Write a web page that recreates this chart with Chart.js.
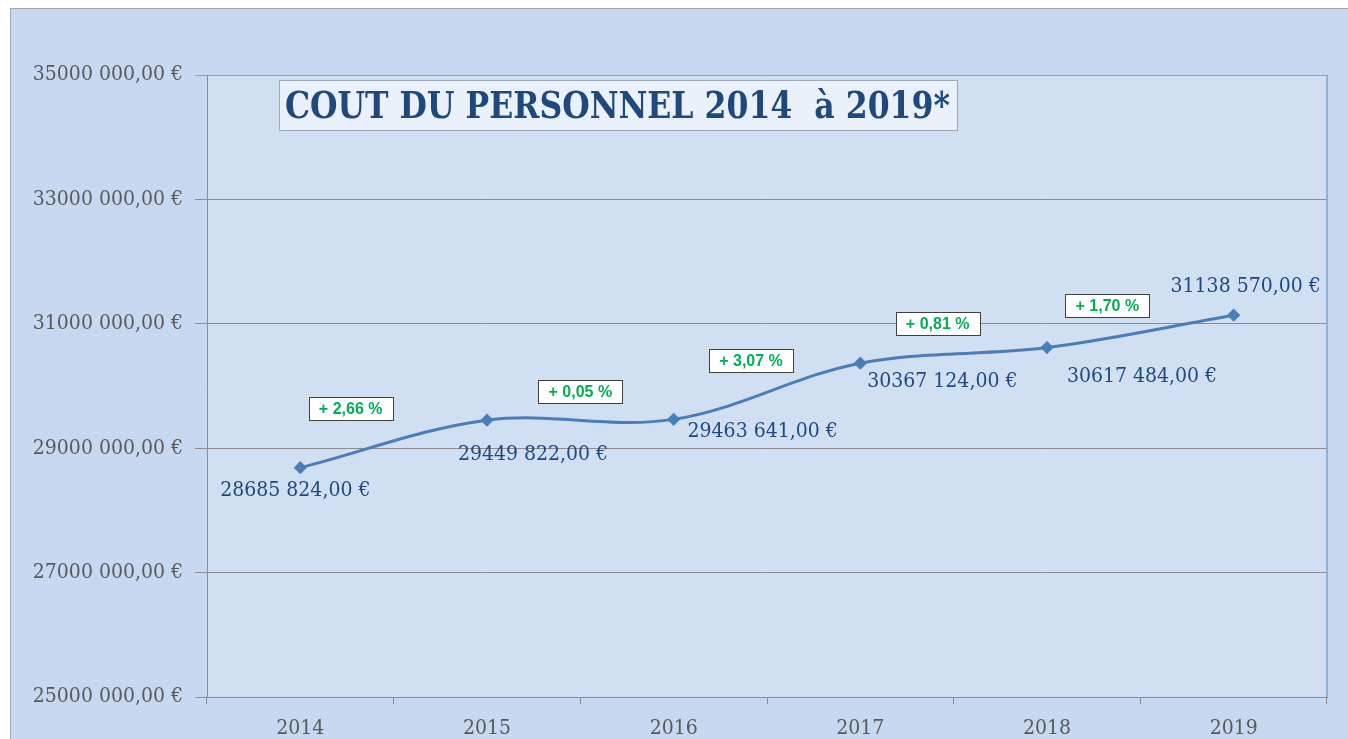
<!DOCTYPE html>
<html>
<head>
<meta charset="utf-8">
<script src="https://cdn.jsdelivr.net/npm/chart.js@4/dist/chart.umd.min.js"></script>
<style>
  html, body { margin: 0; padding: 0; background: #fff; }
  #wrap { width: 1348px; height: 739px; }
</style>
</head>
<body>
<div id="wrap"><canvas id="chart" width="1348" height="739"></canvas></div>
<script>
// data
var years = ['2014', '2015', '2016', '2017', '2018', '2019'];
var costs = [28685824, 29449822, 29463641, 30367124, 30617484, 31138570];
var growthLabels = ['+ 2,66 %', '+ 0,05 %', '+ 3,07 %', '+ 0,81 %', '+ 1,70 %'];
var yMin = 25000000, yMax = 35000000, yStep = 2000000;
var title = 'COUT DU PERSONNEL 2014  \u00e0 2019*';

// where each label sits relative to its point (pixels)
var valueOffsets = [[-5, 23], [46, 34], [89, 12], [82, 18], [95, 29], [12, -29]];
var growthOffsets = [[-43, -35], [0, -28], [-16, -31], [-16, -32], [-33, -26]];

function euro(v) {
    var s = Math.round(v).toString();
    return s.slice(0, -3) + ' ' + s.slice(-3) + ',00 \u20ac';
}

var serif = '"DejaVu Serif Condensed", "DejaVu Serif", serif';

var framePlugin = {
    id: 'frame',
    beforeDraw: function(chart) {
        var c = chart.ctx, a = chart.chartArea;
        c.save();
        c.fillStyle = '#ffffff';
        c.fillRect(0, 0, chart.width, chart.height);
        c.fillStyle = '#c6d9f0';
        c.fillRect(10, 8, chart.width - 10, chart.height - 8);
        c.strokeStyle = '#a6a6a6';
        c.lineWidth = 1;
        c.strokeRect(10.5, 8.5, chart.width, chart.height);
        c.fillStyle = '#d0dff2';
        c.fillRect(a.left, a.top, a.right - a.left, a.bottom - a.top);
        c.restore();
    },
    afterDraw: function(chart) {
        var c = chart.ctx, a = chart.chartArea;
        var pts = chart.getDatasetMeta(0).data;
        c.save();
        // plot border on the right
        c.strokeStyle = '#7da0d2';
        c.lineWidth = 1.5;
        c.beginPath();
        c.moveTo(a.right, a.top);
        c.lineTo(a.right, a.bottom);
        c.stroke();

        // title box
        c.fillStyle = '#eaf1fa';
        c.fillRect(279, 80, 678, 50);
        c.strokeStyle = '#a0a8b4';
        c.lineWidth = 1;
        c.strokeRect(279.5, 80.5, 678, 50);
        c.fillStyle = '#1f497d';
        c.font = 'bold 38px ' + serif;
        var tw = c.measureText(title).width;
        c.save();
        c.translate(285, 118);
        c.scale(665 / tw, 1);
        c.textAlign = 'left';
        c.textBaseline = 'alphabetic';
        c.fillText(title, 0, 0);
        c.restore();

        // value labels
        c.font = '21px ' + serif;
        c.textAlign = 'center';
        c.textBaseline = 'middle';
        c.fillStyle = '#1f497d';
        for (var i = 0; i < pts.length; i++) {
            c.fillText(euro(costs[i]), pts[i].x + valueOffsets[i][0], pts[i].y + valueOffsets[i][1]);
        }

        // growth boxes
        c.font = 'bold 16px "Liberation Sans", Arial, sans-serif';
        for (var j = 0; j < growthLabels.length; j++) {
            var mx = (pts[j].x + pts[j + 1].x) / 2 + growthOffsets[j][0];
            var my = (pts[j].y + pts[j + 1].y) / 2 + growthOffsets[j][1];
            var w = 84, h = 23;
            var bx = Math.round(mx - w / 2) + 0.5, by = Math.round(my - h / 2) + 0.5;
            c.fillStyle = '#ffffff';
            c.fillRect(bx, by, w, h);
            c.strokeStyle = '#404040';
            c.lineWidth = 1;
            c.strokeRect(bx, by, w, h);
            c.fillStyle = '#00b050';
            c.fillText(growthLabels[j], mx, my + 1);
        }
        c.restore();
    }
};

var ctx = document.getElementById('chart').getContext('2d');
var chart = new Chart(ctx, {
    type: 'line',
    data: {
        labels: years,
        datasets: [{
            data: costs,
            borderColor: '#4a7ebb',
            backgroundColor: '#4a7ebb',
            borderWidth: 3,
            tension: 0.35,
            pointStyle: 'rectRot',
            pointRadius: 4.5,
            pointBackgroundColor: '#4a7ebb',
            pointBorderColor: '#4a7ebb',
            fill: false
        }]
    },
    options: {
        responsive: false,
        animation: false,
        layout: { padding: { top: 75, right: 21, left: 0, bottom: 0 } },
        plugins: {
            legend: { display: false },
            tooltip: { enabled: false },
            title: { display: false }
        },
        scales: {
            x: {
                type: 'category',
                offset: true,
                afterFit: function(s) { s.height = 42; },
                grid: {
                    display: true,
                    drawOnChartArea: false,
                    drawTicks: true,
                    tickLength: 7,
                    color: '#8c8c8c',
                    offset: true
                },
                border: { color: '#8c8c8c', width: 1 },
                ticks: {
                    color: '#595959',
                    font: { family: serif, size: 21 },
                    padding: 12
                }
            },
            y: {
                min: yMin,
                max: yMax,
                afterFit: function(s) { s.width = 207; },
                ticks: {
                    stepSize: yStep,
                    color: '#595959',
                    font: { family: serif, size: 21 },
                    padding: 12,
                    callback: function(v) { return euro(v); }
                },
                grid: {
                    color: function(c) { return c.tick && c.tick.value === yMax ? '#7f9fd0' : '#8c8c8c'; },
                    lineWidth: 1,
                    tickLength: 12
                },
                border: { color: '#8c8c8c', width: 1 }
            }
        }
    },
    plugins: [framePlugin]
});
</script>
</body>
</html>
